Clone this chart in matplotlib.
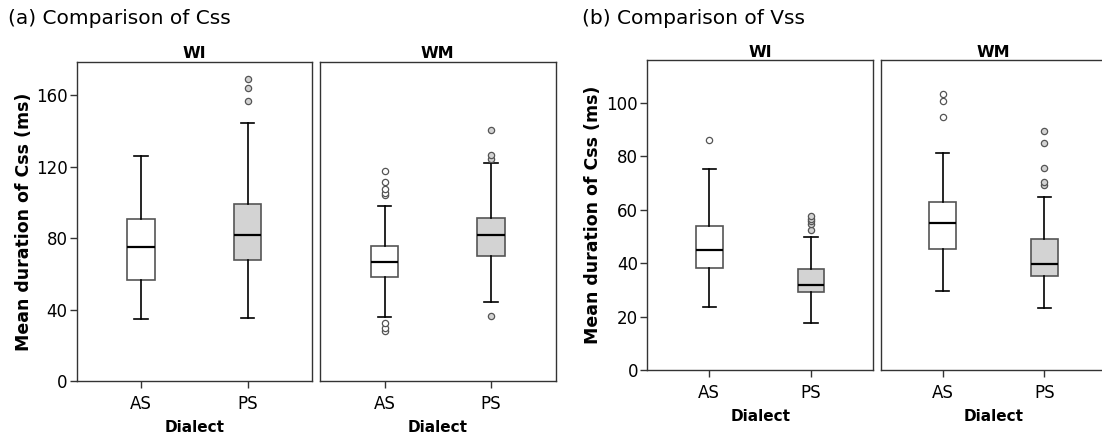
import matplotlib
matplotlib.use("Agg")
import matplotlib.pyplot as plt

# categories
dialects = ["AS", "PS"]
speakers = ["WI", "WM"]

# (a) Css -- order: WI-AS, WI-PS, WM-AS, WM-PS (ms)
css_whislo = [34.7, 35.1, 35.8, 44.4]
css_q1 = [56.5, 67.9, 58.4, 70.2]
css_med = [75.0, 81.6, 66.8, 81.6]
css_q3 = [90.9, 99.3, 75.4, 91.4]
css_whishi = [126.2, 144.5, 98.2, 121.9]
css_fliers = [[], [156.8, 164.3, 169.3],
              [28.2, 29.9, 32.3, 104.0, 105.1, 107.7, 111.2, 117.4],
              [36.2, 124.3, 126.5, 140.4]]
css_yticks = [0, 40, 80, 120, 160]

# (b) Vss
vss_whislo = [23.7, 17.6, 29.7, 23.3]
vss_q1 = [38.4, 29.4, 45.5, 35.4]
vss_med = [45.1, 31.9, 55.0, 39.7]
vss_q3 = [53.8, 38.0, 63.1, 48.9]
vss_whishi = [75.1, 50.0, 81.4, 64.6]
vss_fliers = [[86.0], [52.4, 54.6, 55.9, 56.7, 57.6],
              [94.7, 100.6, 103.3],
              [69.4, 70.3, 75.7, 84.8, 89.5]]
vss_yticks = [0, 20, 40, 60, 80, 100]

fills = ["white", "#d3d3d3"]

W, H = 1102, 440
plt.rcParams["font.family"] = "DejaVu Sans"
fig = plt.figure(figsize=(W / 100, H / 100), dpi=100)


def px_axes(left, right, top, bottom):
    return fig.add_axes([left / W, 1 - bottom / H, (right - left) / W, (bottom - top) / H])


def make_stats(whislo, q1, med, q3, whishi, fliers, idx):
    return [dict(whislo=whislo[i], q1=q1[i], med=med[i], q3=q3[i],
                 whishi=whishi[i], fliers=fliers[i]) for i in idx]


def draw_panel(ax, stats, ymax, yticks, first):
    for j, st in enumerate(stats):
        ax.bxp([st], positions=[j], widths=0.26, patch_artist=True,
               boxprops=dict(facecolor=fills[j], edgecolor="#555555", linewidth=1.2),
               whiskerprops=dict(color="black", linewidth=1.2),
               capprops=dict(color="black", linewidth=1.2),
               medianprops=dict(color="black", linewidth=1.6),
               flierprops=dict(marker="o", markersize=4.5, markerfacecolor=fills[j],
                               markeredgecolor="#555555", markeredgewidth=0.9))
    ax.set_xlim(-0.61, 1.61)
    ax.set_ylim(0, ymax)
    ax.set_xticks([0, 1])
    ax.set_xticklabels(dialects, fontsize=12)
    ax.tick_params(axis="x", length=5, width=1, color="#333333", pad=5)
    if first:
        ax.set_yticks(yticks)
        ax.tick_params(axis="y", length=5, width=1, color="#333333", labelsize=12, pad=1.5)
    else:
        ax.set_yticks([])
    for s in ax.spines.values():
        s.set_color("#333333")
        s.set_linewidth(1.0)
    ax.set_xlabel("Dialect", fontsize=11, fontweight="bold", labelpad=5)


# panel (a)
a1 = px_axes(76.5, 312.3, 61.7, 381)
a2 = px_axes(319.6, 556, 61.7, 381)
draw_panel(a1, make_stats(css_whislo, css_q1, css_med, css_q3, css_whishi, css_fliers, [0, 1]),
           178.8, css_yticks, True)
draw_panel(a2, make_stats(css_whislo, css_q1, css_med, css_q3, css_whishi, css_fliers, [2, 3]),
           178.8, css_yticks, False)
a1.set_ylabel("Mean duration of Css (ms)", fontsize=12.5, fontweight="bold", labelpad=2)

# panel (b)
b1 = px_axes(647.2, 873.2, 60, 370.3)
b2 = px_axes(880.5, 1106.5, 60, 370.3)
draw_panel(b1, make_stats(vss_whislo, vss_q1, vss_med, vss_q3, vss_whishi, vss_fliers, [0, 1]),
           116, vss_yticks, True)
draw_panel(b2, make_stats(vss_whislo, vss_q1, vss_med, vss_q3, vss_whishi, vss_fliers, [2, 3]),
           116, vss_yticks, False)
b1.set_ylabel("Mean duration of Css (ms)", fontsize=12.5, fontweight="bold", labelpad=3)

for ax, name in zip([a1, a2, b1, b2], speakers * 2):
    ax.set_title(name, fontsize=11.5, fontweight="bold", pad=2.5)

fig.text(7.7 / W, 1 - 24 / H, "(a) Comparison of Css", fontsize=14.5)
fig.text(581.6 / W, 1 - 24 / H, "(b) Comparison of Vss", fontsize=14.5)

fig.savefig("out.png", dpi=100)
